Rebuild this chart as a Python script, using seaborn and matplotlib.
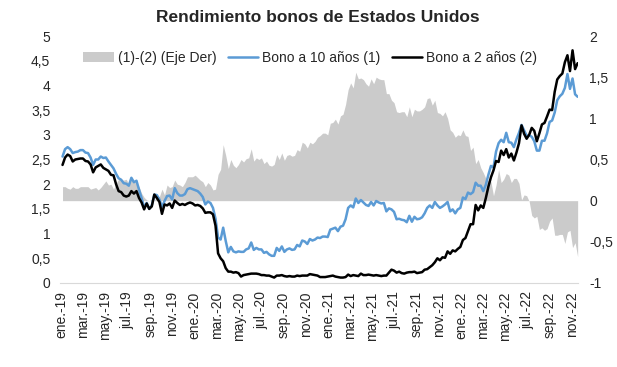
import pandas as pd
import seaborn as sns
import matplotlib.pyplot as plt
from matplotlib.patches import Patch
from matplotlib.lines import Line2D

# weekly (thursday) yields, %
ten_2019 = [2.56, 2.71, 2.75, 2.71, 2.63,
            2.65, 2.66, 2.69, 2.69,
            2.64, 2.63, 2.54, 2.39,
            2.50, 2.50, 2.56, 2.53,
            2.54, 2.46, 2.39, 2.32, 2.21,
            2.12, 2.09, 2.02, 2.01,
            1.97, 2.13, 2.04, 2.07,
            1.89, 1.72, 1.53, 1.62, 1.50,
            1.57, 1.79, 1.78, 1.69,
            1.54, 1.66, 1.76, 1.77, 1.69,
            1.92, 1.82, 1.77, 1.77,
            1.80, 1.90, 1.92, 1.90]
two_2019 = [2.39, 2.54, 2.60, 2.57, 2.46,
            2.50, 2.51, 2.52, 2.52,
            2.47, 2.46, 2.40, 2.24,
            2.34, 2.37, 2.40, 2.33,
            2.30, 2.27, 2.19, 2.18, 2.00,
            1.86, 1.84, 1.77, 1.75,
            1.77, 1.86, 1.81, 1.86,
            1.72, 1.63, 1.49, 1.61, 1.50,
            1.55, 1.79, 1.72, 1.64,
            1.40, 1.59, 1.57, 1.61, 1.52,
            1.67, 1.62, 1.58, 1.60,
            1.58, 1.61, 1.63, 1.61]

ten_2020 = [1.88, 1.86, 1.81, 1.74, 1.59,
            1.65, 1.62, 1.52, 1.30,
            0.92, 0.88, 1.12, 0.85,
            0.62, 0.73, 0.64, 0.62, 0.64,
            0.63, 0.63, 0.68, 0.70,
            0.82, 0.67, 0.71, 0.68,
            0.68, 0.61, 0.63, 0.58, 0.55,
            0.55, 0.71, 0.65, 0.74,
            0.63, 0.68, 0.70, 0.67,
            0.68, 0.77, 0.74, 0.86, 0.84,
            0.79, 0.89, 0.86, 0.88,
            0.92, 0.91, 0.94, 0.94, 0.93]
two_2020 = [1.57, 1.58, 1.56, 1.51, 1.42,
            1.43, 1.43, 1.39, 1.16,
            0.60, 0.50, 0.44, 0.30,
            0.23, 0.23, 0.21, 0.22, 0.20,
            0.13, 0.16, 0.17, 0.18,
            0.19, 0.19, 0.19, 0.18,
            0.16, 0.16, 0.15, 0.15, 0.13,
            0.11, 0.15, 0.15, 0.16,
            0.14, 0.13, 0.14, 0.13,
            0.13, 0.15, 0.14, 0.15, 0.15,
            0.15, 0.18, 0.17, 0.16,
            0.15, 0.12, 0.12, 0.12, 0.13]

ten_2021 = [1.08, 1.10, 1.12, 1.05,
            1.14, 1.16, 1.29, 1.52,
            1.57, 1.53, 1.71, 1.62,
            1.68, 1.63, 1.58, 1.56, 1.64,
            1.57, 1.66, 1.63, 1.61,
            1.62, 1.45, 1.51, 1.49,
            1.44, 1.29, 1.30, 1.28, 1.27,
            1.23, 1.36, 1.24, 1.34,
            1.29, 1.30, 1.33, 1.41, 1.52,
            1.57, 1.52, 1.64, 1.57,
            1.52, 1.55, 1.59, 1.64,
            1.45, 1.49, 1.41, 1.49, 1.52]
two_2021 = [0.14, 0.15, 0.13, 0.12,
            0.11, 0.11, 0.12, 0.17,
            0.14, 0.16, 0.15, 0.14,
            0.19, 0.16, 0.16, 0.17, 0.16,
            0.15, 0.16, 0.15, 0.14,
            0.15, 0.15, 0.21, 0.27,
            0.25, 0.21, 0.23, 0.20, 0.19,
            0.21, 0.22, 0.22, 0.23,
            0.20, 0.21, 0.22, 0.27, 0.28,
            0.32, 0.36, 0.42, 0.50,
            0.46, 0.52, 0.51, 0.64,
            0.59, 0.66, 0.64, 0.69, 0.73]

ten_2022 = [1.73, 1.70, 1.83, 1.80,
            1.84, 2.03, 1.97, 1.97,
            1.86, 1.99, 2.19, 2.37, 2.34,
            2.66, 2.83, 2.90, 2.85,
            3.04, 2.85, 2.84, 2.75,
            2.91, 3.04, 3.20, 3.09, 2.98,
            2.99, 2.96, 2.87, 2.68,
            2.68, 2.88, 2.88, 3.03,
            3.26, 3.29, 3.45, 3.70, 3.78,
            3.83, 3.95, 4.23, 3.93,
            4.14, 3.82, 3.77]
two_2022 = [0.87, 0.91, 1.05, 1.19,
            1.19, 1.58, 1.47, 1.57,
            1.52, 1.72, 1.95, 2.14, 2.28,
            2.47, 2.45, 2.68, 2.59,
            2.71, 2.54, 2.62, 2.48,
            2.64, 2.83, 3.19, 3.02, 2.92,
            3.00, 3.14, 3.08, 2.87,
            3.03, 3.21, 3.24, 3.37,
            3.51, 3.50, 3.87, 4.12, 4.19,
            4.24, 4.47, 4.61, 4.29,
            4.71, 4.33, 4.45]

meses = {1: 'ene.', 3: 'mar.', 5: 'may.', 7: 'jul.', 9: 'sep.', 11: 'nov.'}

ten = ten_2019 + ten_2020 + ten_2021 + ten_2022
two = two_2019 + two_2020 + two_2021 + two_2022
df = pd.DataFrame({
    'fecha': pd.date_range('2019-01-03', periods=len(ten), freq='W-THU'),
    'diez': ten,
    'dos': two,
})
df['spread'] = df['diez'] - df['dos']

sns.set_theme(style='white')
plt.rcParams['font.family'] = ['Liberation Sans', 'DejaVu Sans']

fig = plt.figure(figsize=(6.17, 3.67), dpi=100)
ax = fig.add_axes([0.0972, 0.2289, 0.8396, 0.673])
ax2 = ax.twinx()

ax2.fill_between(df['fecha'], df['spread'], 0, color='#cbcbcb', lw=0)
ax2.set_ylim(-1, 2)
ax.set_zorder(ax2.get_zorder() + 1)
ax.patch.set_visible(False)

sns.lineplot(data=df, x='fecha', y='diez', ax=ax, color='#5b9bd5', lw=1.8)
sns.lineplot(data=df, x='fecha', y='dos', ax=ax, color='black', lw=1.8)

ax.set_ylim(0, 5)
ax.set_xlim(pd.Timestamp('2018-12-27'), pd.Timestamp('2022-11-18'))
ticks = pd.date_range('2019-01-01', '2022-11-01', freq='2MS')
ax.set_xticks(ticks)
ax.set_xticklabels([f"{meses[t.month]}-{t.strftime('%y')}" for t in ticks],
                   rotation=90, fontsize=10)
yl = [i * 0.5 for i in range(11)]
ax.set_yticks(yl)
ax.set_yticklabels([f'{v:g}'.replace('.', ',') for v in yl], fontsize=10)
yr = [-1 + i * 0.5 for i in range(7)]
ax2.set_yticks(yr)
ax2.set_yticklabels([f'{v:g}'.replace('.', ',') for v in yr], fontsize=10)
ax.set_xlabel('')
ax.set_ylabel('')
ax2.set_ylabel('')
ax.tick_params(axis='x', length=0, pad=6)
ax.tick_params(axis='y', length=0, pad=7)
ax2.tick_params(axis='y', length=0, pad=8)
for s in ['top', 'left', 'right']:
    ax.spines[s].set_visible(False)
ax.spines['bottom'].set_color('#d9d9d9')
ax.spines['bottom'].set_linewidth(0.8)
for s in ax2.spines.values():
    s.set_visible(False)

fig.text(0.515, 0.952, 'Rendimiento bonos de Estados Unidos',
         ha='center', va='center', fontsize=12.5, fontweight='bold')
handles = [Patch(facecolor='#cbcbcb', edgecolor='none'),
           Line2D([], [], color='#5b9bd5', lw=1.8),
           Line2D([], [], color='black', lw=1.8)]
fig.legend(handles, ['(1)-(2) (Eje Der)', 'Bono a 10 años (1)', 'Bono a 2 años (2)'],
           loc='center', bbox_to_anchor=(0.503, 0.842), ncol=3, frameon=False,
           fontsize=10, handlelength=2.2, handletextpad=0.3, columnspacing=0.8)

fig.savefig('out.png', dpi=100)
